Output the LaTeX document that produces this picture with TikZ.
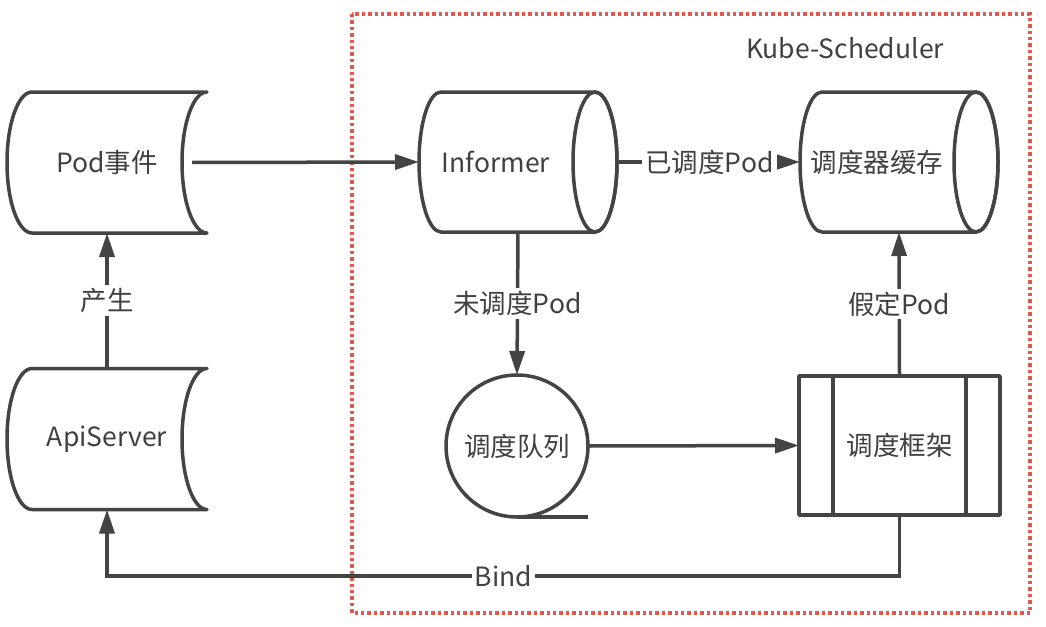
\documentclass[tikz,border=0pt]{standalone}
\usepackage{fontspec}
\setmainfont{Noto Sans CJK SC}
\usetikzlibrary{arrows.meta}
\usetikzlibrary{calc}

\definecolor{linegray}{HTML}{444444}
\definecolor{textgray}{HTML}{404040}
\definecolor{kubered}{HTML}{E5574A}

\tikzset{
  shapeline/.style = {draw=linegray, line width=3.5pt, line join=round},
  shapetext/.style = {font=\fontsize{26.5}{30}\selectfont, text=textgray, inner sep=0pt, outer sep=0pt},
  arr/.style = {-{Triangle[length=24pt,width=15pt]}, draw=linegray, line width=3.5pt},
  lbl/.style = {fill=white, font=\fontsize{26.5}{30}\selectfont, text=textgray, inner sep=3pt},
  kubeline/.style = {draw=kubered, line width=3.4pt, dash pattern=on 3.4pt off 3pt},
}

% stored data: bulge left, hollow right
\newcommand{\storedata}[1]{%
  \draw[shapeline] ([xshift=25pt]#1.south west)
    arc[start angle=270, end angle=90, x radius=25pt, y radius=70.5pt]
    -- (#1.north east)
    arc[start angle=90, end angle=270, x radius=25pt, y radius=70.5pt]
    -- cycle;}

% lying drum, node covers the text part only
\newcommand{\drum}[1]{%
  \draw[shapeline] ([xshift=22pt]#1.south west)
    arc[start angle=270, end angle=90, x radius=22pt, y radius=70pt]
    -- ([xshift=22pt]#1.north east)
    arc[start angle=90, end angle=-90, x radius=22pt, y radius=70pt]
    -- cycle;
  \draw[shapeline] ([xshift=22pt]#1.east) ellipse[x radius=22pt, y radius=70pt];}

\begin{document}
\begin{tikzpicture}[x=1pt, y=-1pt]
    \useasboundingbox (0,0) rectangle (1046,626);

    % scheduler frame
    \draw[kubeline] (352,14) rectangle (1030,613);
    \node[shapetext] (kubelbl) at (845,48) {Kube-Scheduler};

    % shapes
    \node[shapetext, minimum width=200pt, minimum height=141pt] (podev) at (107,162.5) {Pod事件};
    \node[shapetext, minimum width=200pt, minimum height=141pt] (api) at (107,439) {ApiServer};
    \storedata{podev}
    \storedata{api}

    \node[shapetext, minimum width=154pt, minimum height=140pt] (inf) at (496,162) {Informer};
    \node[shapetext, minimum width=154pt, minimum height=140pt] (cache) at (877,162) {调度器缓存};
    \drum{inf}
    \drum{cache}

    \node[shapetext, shapeline, circle, minimum size=142pt] (queue) at (517,446) {调度队列};
    \draw[shapeline] (queue.south) -- (queue.south -| queue.east);

    \node[shapetext, shapeline, minimum width=201pt, minimum height=139pt] (frame) at (899.5,445.5) {调度框架};
    \draw[shapeline] ([xshift=34pt]frame.north west) -- ([xshift=34pt]frame.south west);
    \draw[shapeline] ([xshift=-34pt]frame.north east) -- ([xshift=-34pt]frame.south east);

    % flows
    \draw[arr] ([xshift=-15pt]podev.east) -- (inf.west);
    \draw[arr] ([xshift=46pt]inf.east) -- node[lbl] (lbldone) {已调度Pod} (cache.west);
    \draw[arr] ([xshift=22pt]inf.south) -- node[lbl] (lblwait) {未调度Pod} (queue.north);
    \draw[arr] (queue.east) -- (frame.west);
    \draw[arr] (frame.north) -- node[lbl] (lblassume) {假定Pod} ([xshift=22pt]cache.south);
    \draw[arr] (api.north) -- node[lbl] (lblgen) {产生} (podev.south);

    \coordinate (bindy) at (0,576);
    \draw[arr] (frame.south) |- node[lbl, pos=0.75] (lblbind) {Bind} (bindy -| api.south) -- (api.south);

\end{tikzpicture}
\end{document}
